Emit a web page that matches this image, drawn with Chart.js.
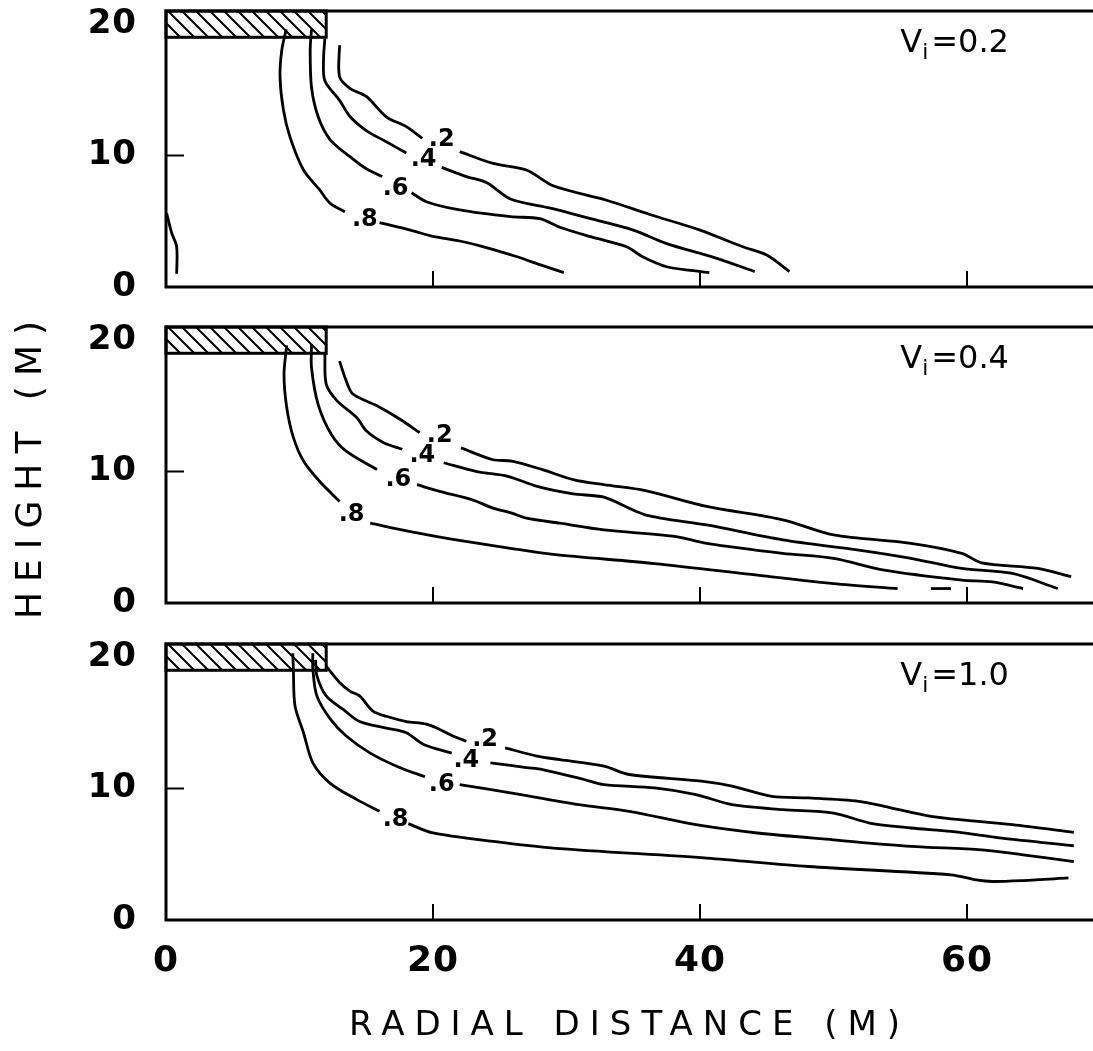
<!DOCTYPE html>
<html>
<head>
<meta charset="utf-8">
<script src="https://cdn.jsdelivr.net/npm/chart.js@4.4.0/dist/chart.umd.min.js"></script>
<style>
html,body{margin:0;padding:0;background:#fff;overflow:hidden;}
#wrap{position:relative;width:1093px;height:1051px;}
canvas{position:absolute;left:0;}
</style>
</head>
<body>
<div id="wrap">
<canvas id="c1" width="1093" height="300" style="top:0px"></canvas>
<canvas id="c2" width="1093" height="300" style="top:316px"></canvas>
<canvas id="c3" width="1093" height="418" style="top:633px"></canvas>
</div>
<script>
// axis and label data
var xTicks = [0, 20, 40, 60];
var yTicks = [0, 10, 20];
var contourNames = ['.2', '.4', '.6', '.8'];
var viValues = ['0.2', '0.4', '1.0'];
var hatchX = [0, 12];
var hatchY = [19, 21];

// panel 1, Vi = 0.2
var p1x2 = [13.0, 13.0, 13.8, 15.0, 16.5, 18.0, 19.2, null, 22.0, 24.5, 27.0, 29.0, 33.0, 36.3, 40.0, 43.2, 45.0, 46.7];
var p1y2 = [18.4, 16.0, 15.1, 14.5, 12.95, 12.2, 11.3, null, 10.3, 9.4, 8.9, 7.7, 6.6, 5.5, 4.33, 3.06, 2.43, 1.17];
var p1x4 = [11.9, 11.8, 11.9, 13.0, 13.8, 15.0, 16.5, 18.0, null, 20.65, 22.5, 24.0, 25.8, 28.8, 31.8, 35.0, 37.5, 41.2, 44.1];
var p1y4 = [18.9, 17.3, 15.7, 14.2, 12.95, 11.9, 11.05, 10.2, null, 9.1, 8.4, 7.95, 6.7, 6.0, 5.2, 4.33, 3.3, 2.2, 1.17];
var p1x6 = [10.9, 10.8, 10.9, 11.4, 12.3, 13.8, 15.0, 16.2, null, 18.4, 19.5, 22.0, 25.8, 28.0, 29.5, 31.8, 34.5, 35.7, 37.5, 39.5, 40.7];
var p1y6 = [19.6, 18.0, 15.2, 12.95, 11.2, 9.9, 9.0, 8.4, null, 7.17, 6.49, 5.86, 5.35, 5.2, 4.55, 3.83, 3.06, 2.3, 1.54, 1.24, 1.09];
var p1x8 = [9.0, 8.67, 8.54, 8.79, 9.29, 10.3, 11.5, 12.3, 13.4, null, 16.0, 18.3, 20.0, 22.0, 23.8, 26.3, 28.0, 29.8];
var p1y8 = [19.6, 18.0, 16.0, 13.5, 11.4, 8.9, 7.4, 6.36, 5.73, null, 4.9, 4.33, 3.85, 3.5, 3.06, 2.3, 1.7, 1.09];
var p1xEdge = [0.05, 0.43, 0.8, 0.8];
var p1yEdge = [5.6, 4.1, 3.06, 1.0];
var p1labX = [20.65, 19.3, 17.2, 14.9];
var p1labY = [11.2, 9.66, 7.5, 5.1];

// panel 2, Vi = 0.4
var p2x2 = [13.0, 13.5, 14.0, 15.8, 17.5, 19.0, null, 22.1, 24.5, 25.9, 28.2, 30.5, 32.8, 35.9, 40.5, 46.2, 50.0, 55.8, 59.6, 61.1, 65.3, 67.8];
var p2y2 = [18.4, 16.9, 15.9, 15.0, 14.0, 12.96, null, 11.8, 10.9, 10.8, 10.15, 9.39, 9.0, 8.55, 7.35, 6.33, 5.18, 4.54, 3.78, 3.06, 2.63, 2.0];
var p2x4 = [11.9, 12.0, 12.8, 14.3, 15.0, 16.3, 17.7, null, 20.8, 23.3, 25.6, 27.8, 30.5, 32.8, 35.9, 40.5, 46.2, 51.9, 55.8, 59.6, 63.4, 66.8];
var p2y4 = [18.95, 16.65, 15.4, 14.1, 13.1, 12.2, 11.7, null, 10.67, 10.0, 9.64, 8.87, 8.3, 8.05, 6.71, 5.94, 4.8, 4.03, 3.4, 2.63, 2.25, 1.1];
var p2x6 = [10.9, 10.9, 11.4, 12.4, 13.5, 15.8, null, 18.8, 20.5, 22.9, 24.5, 25.9, 27.0, 29.5, 32.8, 38.2, 40.5, 46.2, 50.0, 53.8, 59.6, 61.9, 64.2];
var p2y6 = [19.7, 17.9, 15.1, 12.8, 11.55, 10.15, null, 9.0, 8.5, 7.86, 7.22, 6.84, 6.46, 6.07, 5.56, 5.05, 4.54, 3.78, 3.4, 2.5, 1.74, 1.6, 1.1];
var p2x8 = [9.04, 8.84, 9.04, 9.54, 10.3, 11.5, 13.0, null, 15.3, 18.3, 21.5, 25.8, 29.0, 36.6, 44.3, 50.0, 54.8];
var p2y8 = [19.6, 17.4, 14.9, 12.6, 10.8, 9.26, 7.73, null, 6.07, 5.43, 4.85, 4.16, 3.7, 3.0, 2.12, 1.48, 1.1];
var p2xPiece = [57.3, 58.8];
var p2yPiece = [1.1, 1.1];
var p2labX = [20.5, 19.2, 17.4, 13.9];
var p2labY = [12.7, 11.2, 9.39, 6.7];

// panel 3, Vi = 1.0
var p3x2 = [12.0, 13.0, 13.8, 14.5, 15.5, 16.5, 18.0, 19.5, 20.5, 21.5, 22.5, null, 25.4, 27.8, 29.5, 32.8, 34.7, 40.1, 42.4, 45.4, 48.1, 51.9, 53.8, 57.3, 63.4, 68.0];
var p3y2 = [19.3, 18.07, 17.4, 17.05, 15.9, 15.5, 15.1, 14.9, 14.5, 14.0, 13.6, null, 13.1, 12.47, 12.2, 11.7, 11.07, 10.56, 10.18, 9.41, 9.29, 9.03, 8.65, 7.89, 7.25, 6.66];
var p3x4 = [11.2, 11.3, 12.0, 13.3, 14.5, 16.5, 18.0, 19.3, 21.4, null, 24.3, 27.0, 28.2, 31.3, 32.8, 36.6, 39.7, 42.4, 46.2, 50.0, 52.7, 55.8, 58.8, 62.6, 68.0];
var p3y4 = [19.8, 18.6, 17.05, 16.0, 15.1, 14.6, 14.25, 13.36, 12.7, null, 11.96, 11.6, 11.45, 10.69, 10.3, 10.05, 9.54, 8.78, 8.4, 8.14, 7.38, 7.0, 6.74, 6.23, 5.65];
var p3x6 = [11.0, 11.0, 11.3, 12.3, 13.5, 15.3, 17.5, 19.4, null, 22.0, 25.8, 30.9, 34.7, 39.7, 44.3, 50.0, 55.8, 61.1, 64.2, 68.0];
var p3y6 = [20.3, 19.1, 17.05, 15.3, 14.0, 12.7, 11.6, 10.9, null, 10.3, 9.67, 8.78, 8.27, 7.25, 6.62, 6.1, 5.6, 5.34, 4.96, 4.45];
var p3x8 = [9.5, 9.54, 9.66, 10.3, 11.0, 12.3, 14.3, 16.0, null, 18.15, 20.0, 24.5, 29.0, 40.5, 48.1, 58.8, 60.7, 61.9, 64.2, 67.6];
var p3y8 = [20.3, 19.1, 16.3, 14.25, 11.96, 10.4, 9.16, 8.27, null, 7.33, 6.62, 5.98, 5.47, 4.71, 4.07, 3.44, 3.05, 2.93, 3.0, 3.2];
var p3labX = [23.9, 22.5, 20.65, 17.2];
var p3labY = [13.74, 12.1, 10.3, 7.63];

// where the Vi text starts (data units)
var viX = 55.0;
var viY = 17.9;

var xMax = (1093 - 166) / 13.35;
var fontName = '"DejaVu Sans", sans-serif';

var pts = function(xs, ys){
	return xs.map(function(x, i){ return {x: x, y: ys[i]}; });
}
var line = function(xs, ys){
	return {data: pts(xs, ys), borderColor: '#000', borderWidth: 2.8, pointRadius: 0, tension: 0.3, fill: false};
}

var panelDeco = {
	id: 'panelDeco',
	beforeDraw: function(chart){
		chart.ctx.letterSpacing = '1px';
		// wider spacing for the axis titles, like the lettering in the original
		Object.keys(chart.scales).forEach(function(k){
			var s = chart.scales[k];
			if (s._spaced) return;
			var orig = s.drawTitle;
			s.drawTitle = function(){
				var c = this.ctx;
				var old = c.letterSpacing;
				c.letterSpacing = '10px';
				orig.apply(this, arguments);
				c.letterSpacing = old;
			};
			s._spaced = true;
		});
	},
	beforeDatasetsDraw: function(chart, args, opts){
		var ctx = chart.ctx, xs = chart.scales.x, ys = chart.scales.y;
		var l = xs.getPixelForValue(hatchX[0]), r = xs.getPixelForValue(hatchX[1]);
		var t = ys.getPixelForValue(hatchY[1]), b = ys.getPixelForValue(hatchY[0]);
		ctx.save();
		ctx.beginPath();
		ctx.rect(l, t, r - l, b - t);
		ctx.clip();
		ctx.strokeStyle = '#000';
		ctx.lineWidth = 2;
		ctx.beginPath();
		for (var x = l - 40; x < r + 40; x += 14) {
			ctx.moveTo(x, t);
			ctx.lineTo(x + (b - t), b);
		}
		ctx.stroke();
		ctx.restore();
		ctx.save();
		ctx.strokeStyle = '#000';
		ctx.lineWidth = 3;
		ctx.strokeRect(l, t, r - l, b - t);
		ctx.restore();
	},
	afterDatasetsDraw: function(chart, args, opts){
		var ctx = chart.ctx, a = chart.chartArea, xs = chart.scales.x, ys = chart.scales.y;
		ctx.save();
		ctx.letterSpacing = '0px';
		ctx.strokeStyle = '#000';
		ctx.lineWidth = 3;
		// frame: top, left, bottom
		ctx.beginPath();
		ctx.moveTo(a.right + 2, a.top);
		ctx.lineTo(a.left, a.top);
		ctx.lineTo(a.left, a.bottom);
		ctx.lineTo(a.right + 2, a.bottom);
		ctx.stroke();
		// inward ticks
		ctx.lineWidth = 2;
		ctx.beginPath();
		xTicks.slice(1).forEach(function(v){
			var px = xs.getPixelForValue(v);
			ctx.moveTo(px, a.bottom);
			ctx.lineTo(px, a.bottom - 16);
		});
		var py = ys.getPixelForValue(yTicks[1]);
		ctx.moveTo(a.left, py);
		ctx.lineTo(a.left + 18, py);
		ctx.stroke();
		// contour labels
		ctx.fillStyle = '#000';
		ctx.font = 'bold 24px ' + fontName;
		ctx.textAlign = 'center';
		ctx.textBaseline = 'middle';
		contourNames.forEach(function(n, i){
			ctx.fillText(n, xs.getPixelForValue(opts.labX[i]), ys.getPixelForValue(opts.labY[i]));
		});
		// Vi = ... text
		var x0 = xs.getPixelForValue(viX), y0 = ys.getPixelForValue(viY);
		ctx.textAlign = 'left';
		ctx.textBaseline = 'alphabetic';
		ctx.font = '32px ' + fontName;
		ctx.fillText('V', x0, y0);
		var w = ctx.measureText('V').width;
		ctx.font = '22px ' + fontName;
		ctx.fillText('i', x0 + w, y0 + 7);
		var w2 = ctx.measureText('i').width;
		ctx.font = '32px ' + fontName;
		ctx.fillText('=' + opts.vi, x0 + w + w2 + 3, y0);
		ctx.restore();
	}
};

var makeChart = function(id, datasets, deco, isBottom, showYTitle){
	return new Chart(document.getElementById(id), {
		type: 'line',
		data: {datasets: datasets},
		options: {
			responsive: false,
			animation: false,
			layout: {padding: {top: 11, left: 0, right: 0, bottom: 0}},
			plugins: {
				legend: {display: false},
				tooltip: {enabled: false},
				panelDeco: deco
			},
			scales: {
				x: {
					type: 'linear',
					min: 0,
					max: xMax,
					grid: {display: false, drawTicks: false},
					border: {display: false},
					ticks: {
						display: isBottom,
						stepSize: 20,
						includeBounds: false,
						maxRotation: 0,
						color: '#000',
						padding: 20,
						font: {family: fontName, size: 36, weight: 'bold'}
					},
					title: {
						display: isBottom,
						text: 'RADIAL DISTANCE (M)',
						color: '#000',
						padding: {top: 0, bottom: 4},
						font: {family: fontName, size: 34}
					},
					afterFit: function(s){
						s.height = isBottom ? 131 : 13;
						s.paddingLeft = 0;
						s.paddingRight = 0;
					}
				},
				y: {
					min: 0,
					max: 21,
					grid: {display: false, drawTicks: false},
					border: {display: false},
					ticks: {
						stepSize: 10,
						includeBounds: false,
						color: '#000',
						padding: 29,
						font: {family: fontName, size: 34, weight: 'bold'}
					},
					title: {
						display: showYTitle,
						text: 'HEIGHT (M)',
						color: '#000',
						padding: {top: 10, bottom: 0},
						font: {family: fontName, size: 36}
					},
					afterFit: function(s){
						s.width = 166;
						s.paddingTop = 0;
						s.paddingBottom = 0;
					}
				}
			}
		},
		plugins: [panelDeco]
	});
}

makeChart('c1', [
	line(p1x2, p1y2), line(p1x4, p1y4), line(p1x6, p1y6), line(p1x8, p1y8), line(p1xEdge, p1yEdge)
], {labX: p1labX, labY: p1labY, vi: viValues[0]}, false, false);

makeChart('c2', [
	line(p2x2, p2y2), line(p2x4, p2y4), line(p2x6, p2y6), line(p2x8, p2y8), line(p2xPiece, p2yPiece)
], {labX: p2labX, labY: p2labY, vi: viValues[1]}, false, true);

makeChart('c3', [
	line(p3x2, p3y2), line(p3x4, p3y4), line(p3x6, p3y6), line(p3x8, p3y8)
], {labX: p3labX, labY: p3labY, vi: viValues[2]}, true, false);
</script>
</body>
</html>
